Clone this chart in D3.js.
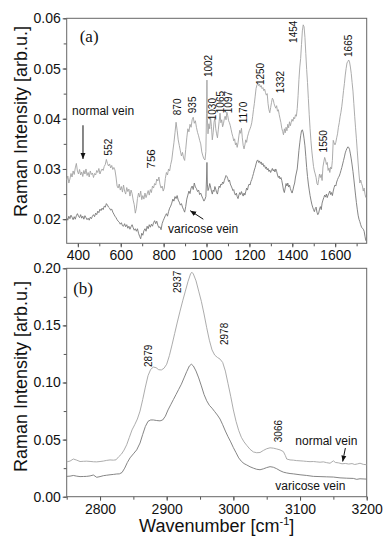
<!DOCTYPE html>
<html>
<head>
<meta charset="utf-8">
<script src="https://cdn.jsdelivr.net/npm/d3@7/dist/d3.min.js"></script>
<style>
  body { margin: 0; background: #fff; }
  text { font-family: "Liberation Sans", Arial, sans-serif; fill: #111; }
</style>
</head>
<body>
<div id="chart"></div>
<script>

// panel (a): fingerprint region, [wavenumber, intensity]
var aNormal = [
  [348,.0278],[353,.0286],[358,.0272],[363,.0280],[368,.0291],[373,.0284],[378,.0296],[383,.0289],[388,.0302],[393,.0311],
  [398,.0296],[403,.0290],[408,.0299],[413,.0288],[418,.0294],[423,.0285],[428,.0297],[433,.0290],[438,.0300],[443,.0287],
  [448,.0293],[453,.0284],[458,.0296],[463,.0289],[468,.0292],[473,.0283],[478,.0291],[483,.0288],[488,.0297],[493,.0293],
  [498,.0301],[503,.0290],[508,.0296],[513,.0300],[518,.0297],[523,.0305],[528,.0309],[533,.0319],[538,.0311],[543,.0306],
  [548,.0310],[553,.0302],[558,.0307],[563,.0299],[568,.0303],[573,.0298],[578,.0284],[583,.0266],[588,.0262],[593,.0270],
  [598,.0258],[603,.0265],[608,.0254],[613,.0268],[618,.0256],[623,.0250],[628,.0263],[633,.0255],[638,.0260],[643,.0246],
  [648,.0258],[653,.0251],[658,.0238],[663,.0229],[668,.0212],[673,.0222],[678,.0241],[683,.0252],[688,.0244],[693,.0256],
  [698,.0239],[703,.0247],[708,.0240],[713,.0252],[718,.0243],[723,.0250],[728,.0257],[733,.0248],[738,.0259],[743,.0253],
  [748,.0266],[753,.0262],[758,.0271],[763,.0268],[768,.0280],[773,.0276],[778,.0284],[783,.0270],[788,.0262],[793,.0266],
  [798,.0256],[803,.0262],[808,.0281],[813,.0293],[818,.0288],[823,.0300],[828,.0296],[833,.0309],[838,.0318],[843,.0336],
  [848,.0352],[853,.0372],[858,.0393],[863,.0377],[868,.0358],[873,.0347],[878,.0336],[883,.0326],[888,.0333],[893,.0322],
  [898,.0317],[903,.0339],[908,.0362],[913,.0380],[918,.0374],[923,.0389],[928,.0383],[933,.0398],[938,.0403],[943,.0391],
  [948,.0396],[953,.0383],[958,.0373],[963,.0366],[968,.0357],[973,.0350],[978,.0334],[983,.0326],[988,.0320],[993,.0318],
  [997,.0335],[1000,.0410],[1002,.0477],[1004,.0400],[1007,.0370],[1011,.0390],[1015,.0380],[1019,.0403],[1023,.0385],[1027,.0358],
  [1031,.0372],[1035,.0393],[1039,.0401],[1043,.0380],[1047,.0370],[1051,.0362],[1055,.0378],[1059,.0395],[1063,.0411],[1067,.0392],
  [1071,.0398],[1075,.0384],[1079,.0390],[1083,.0400],[1087,.0405],[1091,.0398],[1095,.0413],[1099,.0406],[1103,.0396],[1107,.0392],
  [1111,.0386],[1115,.0378],[1119,.0370],[1123,.0364],[1127,.0356],[1131,.0360],[1135,.0348],[1139,.0352],[1143,.0343],[1147,.0352],
  [1151,.0366],[1155,.0377],[1159,.0371],[1163,.0381],[1167,.0362],[1171,.0347],[1175,.0340],[1179,.0348],[1183,.0358],[1187,.0353],
  [1191,.0364],[1195,.0370],[1199,.0376],[1203,.0380],[1207,.0385],[1211,.0392],[1215,.0404],[1219,.0418],[1223,.0430],[1227,.0445],
  [1231,.0460],[1235,.0467],[1239,.0470],[1243,.0466],[1247,.0469],[1251,.0463],[1255,.0466],[1259,.0460],[1263,.0462],[1267,.0456],
  [1271,.0459],[1275,.0452],[1279,.0447],[1283,.0450],[1287,.0430],[1291,.0418],[1295,.0412],[1299,.0422],[1303,.0432],[1307,.0441],
  [1311,.0438],[1315,.0430],[1319,.0425],[1323,.0421],[1327,.0426],[1331,.0415],[1335,.0418],[1339,.0408],[1343,.0400],[1347,.0392],
  [1351,.0381],[1355,.0375],[1359,.0368],[1363,.0380],[1367,.0372],[1371,.0383],[1375,.0376],[1379,.0389],[1383,.0382],[1387,.0394],
  [1391,.0386],[1395,.0393],[1399,.0399],[1403,.0395],[1407,.0403],[1411,.0400],[1415,.0408],[1419,.0405],[1423,.0420],[1427,.0446],
  [1431,.0478],[1435,.0503],[1439,.0520],[1443,.0548],[1447,.0575],[1451,.0587],[1455,.0583],[1459,.0562],[1463,.0530],[1467,.0498],
  [1471,.0472],[1475,.0440],[1479,.0408],[1483,.0380],[1487,.0356],[1491,.0336],[1495,.0320],[1499,.0305],[1503,.0296],[1507,.0290],
  [1511,.0283],[1515,.0271],[1519,.0268],[1523,.0279],[1527,.0290],[1531,.0283],[1535,.0289],[1539,.0277],[1543,.0304],[1547,.0314],
  [1551,.0323],[1555,.0318],[1559,.0309],[1563,.0313],[1567,.0297],[1571,.0302],[1575,.0293],[1579,.0304],[1583,.0300],[1587,.0317],
  [1591,.0357],[1595,.0352],[1599,.0348],[1603,.0353],[1607,.0362],[1611,.0370],[1615,.0383],[1619,.0392],[1623,.0404],[1627,.0413],
  [1631,.0425],[1635,.0440],[1639,.0456],[1643,.0470],[1647,.0487],[1651,.0500],[1655,.0511],[1659,.0514],[1663,.0517],[1667,.0513],
  [1671,.0503],[1675,.0490],[1679,.0472],[1683,.0455],[1687,.0430],[1691,.0405],[1695,.0382],[1699,.0360],[1703,.0336],[1707,.0312],
  [1711,.0290],[1715,.0272],[1719,.0278],[1723,.0271],[1727,.0266],[1731,.0256],[1735,.0262],[1739,.0250],[1743,.0243]
];

var aVaricose = [
  [348,.0203],[353,.0198],[358,.0206],[363,.0201],[368,.0208],[373,.0204],[378,.0199],[383,.0205],[388,.0200],[393,.0207],
  [398,.0211],[403,.0206],[408,.0203],[413,.0209],[418,.0202],[423,.0206],[428,.0200],[433,.0207],[438,.0203],[443,.0199],
  [448,.0202],[453,.0198],[458,.0204],[463,.0201],[468,.0206],[473,.0209],[478,.0205],[483,.0212],[488,.0209],[493,.0216],
  [498,.0213],[503,.0220],[508,.0217],[513,.0222],[518,.0219],[523,.0226],[528,.0224],[533,.0231],[538,.0228],[543,.0224],
  [548,.0222],[553,.0218],[558,.0220],[563,.0214],[568,.0210],[573,.0206],[578,.0203],[583,.0199],[588,.0196],[593,.0194],
  [598,.0190],[603,.0193],[608,.0187],[613,.0186],[618,.0191],[623,.0185],[628,.0189],[633,.0182],[638,.0186],[643,.0180],
  [648,.0185],[653,.0189],[658,.0183],[663,.0178],[668,.0181],[673,.0176],[678,.0181],[683,.0172],[688,.0166],[693,.0161],
  [698,.0172],[703,.0168],[708,.0177],[713,.0181],[718,.0176],[723,.0186],[728,.0181],[733,.0189],[738,.0184],[743,.0190],
  [748,.0186],[753,.0193],[758,.0197],[763,.0191],[768,.0196],[773,.0188],[778,.0183],[783,.0185],[788,.0179],[793,.0191],
  [798,.0197],[803,.0202],[808,.0207],[813,.0211],[818,.0206],[823,.0215],[828,.0222],[833,.0226],[838,.0232],[843,.0240],
  [848,.0236],[853,.0245],[858,.0241],[863,.0247],[868,.0238],[873,.0234],[878,.0228],[883,.0231],[888,.0224],[893,.0219],
  [898,.0214],[903,.0225],[908,.0240],[913,.0248],[918,.0256],[923,.0251],[928,.0262],[933,.0266],[938,.0259],[943,.0272],
  [948,.0264],[953,.0261],[958,.0255],[963,.0258],[968,.0249],[973,.0252],[978,.0246],[983,.0241],[988,.0236],[993,.0240],
  [997,.0245],[1000,.0280],[1002,.0313],[1004,.0270],[1007,.0257],[1011,.0262],[1015,.0271],[1019,.0264],[1023,.0256],[1027,.0250],
  [1031,.0258],[1035,.0255],[1039,.0265],[1043,.0260],[1047,.0253],[1051,.0250],[1055,.0259],[1059,.0266],[1063,.0263],[1067,.0270],
  [1071,.0268],[1075,.0274],[1079,.0271],[1083,.0277],[1087,.0282],[1091,.0287],[1095,.0285],[1099,.0281],[1103,.0275],[1107,.0278],
  [1111,.0270],[1115,.0266],[1119,.0262],[1123,.0257],[1127,.0259],[1131,.0251],[1135,.0248],[1139,.0252],[1143,.0245],[1147,.0241],
  [1151,.0248],[1155,.0253],[1159,.0249],[1163,.0255],[1167,.0250],[1171,.0246],[1175,.0252],[1179,.0248],[1183,.0255],[1187,.0262],
  [1191,.0258],[1195,.0266],[1199,.0270],[1203,.0268],[1207,.0275],[1211,.0279],[1215,.0285],[1219,.0291],[1223,.0298],[1227,.0303],
  [1231,.0310],[1235,.0316],[1239,.0318],[1243,.0313],[1247,.0316],[1251,.0311],[1255,.0314],[1259,.0308],[1263,.0311],[1267,.0305],
  [1271,.0307],[1275,.0301],[1279,.0304],[1283,.0298],[1287,.0301],[1291,.0295],[1295,.0298],[1299,.0293],[1303,.0297],[1307,.0301],
  [1311,.0296],[1315,.0299],[1319,.0294],[1323,.0300],[1327,.0295],[1331,.0288],[1335,.0283],[1339,.0286],[1343,.0280],[1347,.0283],
  [1351,.0277],[1355,.0268],[1359,.0258],[1363,.0253],[1367,.0262],[1371,.0271],[1375,.0266],[1379,.0272],[1383,.0264],[1387,.0268],
  [1391,.0261],[1395,.0256],[1399,.0252],[1403,.0258],[1407,.0266],[1411,.0272],[1415,.0284],[1419,.0292],[1423,.0300],[1427,.0318],
  [1431,.0337],[1435,.0352],[1439,.0366],[1443,.0376],[1447,.0378],[1451,.0372],[1455,.0360],[1459,.0346],[1463,.0325],[1467,.0303],
  [1471,.0285],[1475,.0270],[1479,.0258],[1483,.0247],[1487,.0238],[1491,.0230],[1495,.0224],[1499,.0219],[1503,.0215],[1507,.0221],
  [1511,.0224],[1515,.0214],[1519,.0209],[1523,.0212],[1527,.0220],[1531,.0225],[1535,.0219],[1539,.0232],[1543,.0238],[1547,.0243],
  [1551,.0248],[1555,.0244],[1559,.0250],[1563,.0243],[1567,.0248],[1571,.0252],[1575,.0256],[1579,.0249],[1583,.0253],[1587,.0247],
  [1591,.0256],[1595,.0263],[1599,.0268],[1603,.0266],[1607,.0274],[1611,.0279],[1615,.0283],[1619,.0286],[1623,.0291],[1627,.0297],
  [1631,.0303],[1635,.0310],[1639,.0317],[1643,.0324],[1647,.0332],[1651,.0337],[1655,.0341],[1659,.0344],[1663,.0343],[1667,.0339],
  [1671,.0330],[1675,.0320],[1679,.0308],[1683,.0295],[1687,.0280],[1691,.0264],[1695,.0248],[1699,.0233],[1703,.0220],[1707,.0208],
  [1711,.0200],[1715,.0195],[1719,.0189],[1723,.0184],[1727,.0182],[1731,.0180],[1735,.0176],[1739,.0166],[1743,.0157]
];

// panel (b): high wavenumber region
var bNormal = [
  [2750,.0305],[2755,.0312],[2760,.0330],[2765,.0320],[2770,.0308],[2775,.0310],[2780,.0311],[2785,.0309],[2790,.0306],[2795,.0305],
  [2800,.0308],[2805,.0312],[2810,.0318],[2815,.0322],[2820,.0320],[2824,.0323],[2828,.0350],[2832,.0372],[2836,.0408],[2840,.0455],
  [2844,.0520],[2848,.0585],[2852,.0630],[2856,.0680],[2860,.0750],[2864,.0850],[2868,.0960],[2872,.1060],[2876,.1115],[2880,.1135],
  [2884,.1130],[2888,.1112],[2892,.1110],[2896,.1125],[2900,.1160],[2904,.1235],[2908,.1330],[2912,.1430],[2916,.1530],[2920,.1625],
  [2924,.1715],[2928,.1800],[2932,.1885],[2936,.1955],[2938,.1965],[2940,.1950],[2944,.1890],[2948,.1800],[2952,.1710],[2956,.1600],
  [2960,.1480],[2964,.1370],[2968,.1285],[2972,.1240],[2976,.1220],[2980,.1205],[2984,.1175],[2988,.1100],[2992,.0990],[2996,.0880],
  [3000,.0760],[3004,.0660],[3008,.0580],[3012,.0520],[3016,.0480],[3020,.0450],[3025,.0415],[3030,.0392],[3035,.0385],[3040,.0387],
  [3045,.0405],[3050,.0420],[3055,.0428],[3060,.0425],[3065,.0418],[3070,.0410],[3075,.0395],[3078,.0360],[3080,.0330],[3085,.0322],
  [3090,.0320],[3095,.0316],[3100,.0314],[3105,.0312],[3110,.0309],[3115,.0307],[3120,.0308],[3125,.0305],[3130,.0302],[3135,.0305],
  [3140,.0298],[3145,.0293],[3150,.0314],[3153,.0300],[3158,.0296],[3163,.0288],[3168,.0291],[3173,.0286],[3178,.0290],[3182,.0282],
  [3186,.0287],[3190,.0293],[3195,.0283],[3200,.0280]
];

var bVaricose = [
  [2750,.0178],[2755,.0180],[2760,.0186],[2765,.0180],[2770,.0176],[2775,.0177],[2780,.0178],[2785,.0182],[2790,.0190],[2795,.0170],
  [2800,.0176],[2805,.0184],[2810,.0188],[2815,.0192],[2820,.0195],[2825,.0199],[2829,.0200],[2833,.0212],[2837,.0250],[2841,.0300],
  [2845,.0340],[2850,.0375],[2855,.0410],[2860,.0470],[2864,.0545],[2868,.0615],[2872,.0660],[2876,.0672],[2880,.0672],[2885,.0667],
  [2890,.0664],[2894,.0672],[2898,.0705],[2902,.0760],[2906,.0805],[2910,.0850],[2914,.0895],[2918,.0940],[2922,.0985],[2926,.1040],
  [2930,.1095],[2934,.1145],[2937,.1160],[2940,.1145],[2944,.1100],[2948,.1040],[2952,.0970],[2956,.0895],[2960,.0840],[2964,.0800],
  [2968,.0775],[2972,.0745],[2976,.0715],[2980,.0680],[2984,.0630],[2988,.0575],[2992,.0525],[2996,.0480],[3000,.0430],[3004,.0385],
  [3008,.0340],[3012,.0310],[3016,.0290],[3020,.0278],[3025,.0262],[3030,.0250],[3035,.0240],[3040,.0236],[3045,.0244],[3050,.0255],
  [3055,.0263],[3060,.0258],[3065,.0245],[3070,.0228],[3075,.0215],[3080,.0208],[3085,.0203],[3090,.0200],[3100,.0192],[3110,.0186],
  [3120,.0178],[3130,.0176],[3140,.0174],[3150,.0172],[3160,.0165],[3170,.0162],[3180,.0160],[3185,.0152],[3190,.0157],[3200,.0154]
];

// peak labels: [text, wavenumber, intensity at label foot]
var aPeaks = [
  ["552",545,.0327],["870",867,.0407],["935",935,.0411],["1002",1007,.0483],["1030",1026,.0397],
  ["1065",1063,.0411],["1097",1103,.0411],["1170",1173,.0391],["1250",1254,.0467],["1332",1343,.0451],
  ["1454",1406,.0551],["1550",1546,.0333],["1665",1662,.0523]
];
var aPeakBig = ["756",739,.0301];
var bPeaks = [["2879",2873,.1136],["2937",2916,.1784],["2978",2986,.1328],["3066",3068,.0477]];

// axes
var aDomainX = [348, 1747], aDomainY = [0.0152, 0.06];
var bDomainX = [2750, 3200], bDomainY = [0, 0.20];
var aTicksX = [400, 600, 800, 1000, 1200, 1400, 1600];
var aMinorX = [400, 500, 600, 700, 800, 900, 1000, 1100, 1200, 1300, 1400, 1500, 1600, 1700];
var aTicksY = [0.02, 0.03, 0.04, 0.05, 0.06];
var aMinorY = [0.02, 0.025, 0.03, 0.035, 0.04, 0.045, 0.05, 0.055, 0.06];
var bTicksX = [2800, 2900, 3000, 3100, 3200];
var bMinorX = [2750, 2800, 2850, 2900, 2950, 3000, 3050, 3100, 3150, 3200];
var bTicksY = [0, 0.05, 0.10, 0.15, 0.20];
var bMinorY = [0, 0.025, 0.05, 0.075, 0.10, 0.125, 0.15, 0.175, 0.20];

var left = 66.7, width = 300;

var svg = d3.select("#chart")
    .append("svg")
    .attr("width", 384)
    .attr("height", 537);

// small arrow head
svg.append("defs").append("marker")
    .attr("id", "head")
    .attr("markerUnits", "userSpaceOnUse")
    .attr("markerWidth", 7).attr("markerHeight", 6)
    .attr("refX", 6).attr("refY", 3)
    .attr("orient", "auto")
  .append("path")
    .attr("d", "M0,0.5 L6,3 L0,5.5 Z")
    .attr("fill", "#111");

function panel(top, height, dx, dy, tx, mx, ty, my, fmtY) {
  var g = svg.append("g").attr("transform", "translate(" + left + "," + top + ")");
  var x = d3.scaleLinear().domain(dx).range([0, width]);
  var y = d3.scaleLinear().domain(dy).range([height, 0]);

  // minor ticks first, then labelled ones
  g.append("g").attr("transform", "translate(0," + height + ")")
      .call(d3.axisBottom(x).tickValues(mx).tickSize(3).tickFormat(""));
  g.append("g").attr("transform", "translate(0," + height + ")")
      .call(d3.axisBottom(x).tickValues(tx).tickSize(4).tickPadding(3).tickFormat(d3.format("d")));
  g.append("g").call(d3.axisLeft(y).tickValues(my).tickSize(3).tickFormat(""));
  g.append("g").call(d3.axisLeft(y).tickValues(ty).tickSize(4).tickPadding(2).tickFormat(d3.format(fmtY)));

  g.selectAll(".domain").remove();
  g.selectAll(".tick line").attr("stroke", "#555");
  g.selectAll(".tick text").style("font-size", "14px").attr("fill", "#111");

  g.append("rect")
      .attr("width", width).attr("height", height)
      .attr("fill", "none").attr("stroke", "#666").attr("stroke-width", 1);

  return {g: g, x: x, y: y};
}

function drawLine(p, data, color) {
  var line = d3.line()
      .x(function(d) { return p.x(d[0]); })
      .y(function(d) { return p.y(d[1]); });
  p.g.append("path")
      .datum(data)
      .attr("d", line)
      .attr("fill", "none")
      .attr("stroke", color)
      .attr("stroke-width", 0.9)
      .attr("stroke-linejoin", "round");
}

function peakLabel(p, d, size) {
  p.g.append("text")
      .attr("transform", "translate(" + p.x(d[1]) + "," + p.y(d[2]) + ") rotate(-90)")
      .attr("dy", "0.35em")
      .style("font-size", size + "px")
      .text(d[0]);
}

function note(p, txt, w, v) {
  p.g.append("text")
      .attr("x", p.x(w)).attr("y", p.y(v))
      .style("font-size", "12px")
      .text(txt);
}

function arrow(p, w1, v1, w2, v2) {
  p.g.append("line")
      .attr("x1", p.x(w1)).attr("y1", p.y(v1))
      .attr("x2", p.x(w2)).attr("y2", p.y(v2))
      .attr("stroke", "#111").attr("stroke-width", 1)
      .attr("marker-end", "url(#head)");
}

// panel (a)
var pa = panel(18.3, 225, aDomainX, aDomainY, aTicksX, aMinorX, aTicksY, aMinorY, ".2f");
drawLine(pa, aNormal, "#a3a3a3");
drawLine(pa, aVaricose, "#777");
aPeaks.forEach(function(d) { peakLabel(pa, d, 10); });
peakLabel(pa, aPeakBig, 11.5);
note(pa, "normal vein", 373, 0.0407);
arrow(pa, 424, 0.0387, 424, 0.0320);
note(pa, "varicose vein", 821, 0.0173);
arrow(pa, 985, 0.0200, 924, 0.0217);
pa.g.append("text")
    .attr("x", 13).attr("y", 24)
    .style("font-family", "'Liberation Serif', 'Times New Roman', serif")
    .style("font-size", "17px")
    .text("(a)");

// panel (b)
var pb = panel(268.3, 228.4, bDomainX, bDomainY, bTicksX, bMinorX, bTicksY, bMinorY, ".2f");
drawLine(pb, bNormal, "#a3a3a3");
drawLine(pb, bVaricose, "#777");
bPeaks.forEach(function(d) { peakLabel(pb, d, 10); });
note(pb, "normal vein", 3093, 0.0452);
arrow(pb, 3168, 0.0426, 3164, 0.0308);
note(pb, "varicose vein", 3063, 0.0059);
pb.g.append("text")
    .attr("x", 6.5).attr("y", 26)
    .style("font-family", "'Liberation Serif', 'Times New Roman', serif")
    .style("font-size", "17px")
    .text("(b)");

// axis titles
[121.5, 376.5].forEach(function(cy) {
  svg.append("text")
      .attr("transform", "translate(27," + cy + ") rotate(-90)")
      .attr("text-anchor", "middle")
      .style("font-size", "18px")
      .text("Raman Intensity [arb.u.]");
});

var xt = svg.append("text")
    .attr("x", 216.7).attr("y", 532)
    .attr("text-anchor", "middle")
    .style("font-size", "18px");
xt.append("tspan").text("Wavenumber [cm");
xt.append("tspan").attr("dy", -7).style("font-size", "11px").text("-1");
xt.append("tspan").attr("dy", 7).text("]");

</script>
</body>
</html>
